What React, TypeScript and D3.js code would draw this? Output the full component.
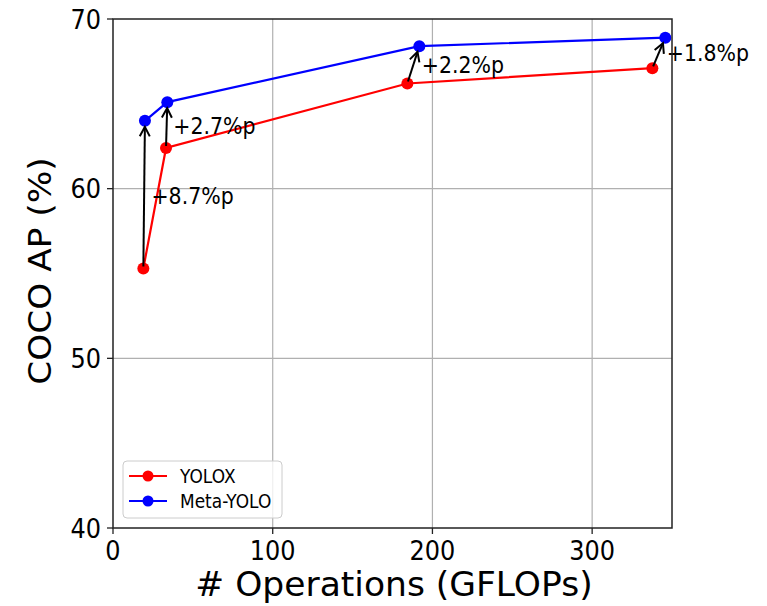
import React from "react";
import * as d3 from "d3";

const yoloxGflops = [19.0, 33.2, 184.3, 337.7];
const yoloxAP = [55.3, 62.4, 66.2, 67.1];
const metaGflops = [20.0, 34.0, 191.8, 345.8];
const metaAP = [64.0, 65.1, 68.4, 68.9];
const gainLabels = ["+8.7%p", "+2.7%p", "+2.2%p", "+1.8%p"];
const xTicks = [0, 100, 200, 300];
const yTicks = [40, 50, 60, 70];
const seriesNames = ["YOLOX", "Meta-YOLO"];

const W = 767, H = 606;
const L = 113, R = 672, T = 19, B = 528;
const FONT = "'DejaVu Sans', sans-serif";
const SY = 1.12;

export default function App() {
  const x = d3.scaleLinear().domain([0, 350]).range([L, R]);
  const y = d3.scaleLinear().domain([40, 70]).range([B, T]);
  const line = d3.line<[number, number]>().x(d => x(d[0])).y(d => y(d[1]));
  const red: [number, number][] = yoloxGflops.map((g, i) => [g, yoloxAP[i]]);
  const blue: [number, number][] = metaGflops.map((g, i) => [g, metaAP[i]]);
  // label offsets (left x, vertical centre) relative to the blue point, in pixels
  const labelOffsets: [number, number][] = [[6.5, 75], [6, 23], [2.5, 18.5], [1.5, 15]];
  const annFont = 20.5;

  const arrows = red.map((p, i) => {
    const x1 = x(p[0]), y1 = y(p[1]);
    const x2 = x(blue[i][0]), y2 = y(blue[i][1]);
    const dx = x2 - x1, dy = y2 - y1;
    const len = Math.hypot(dx, dy);
    const ux = dx / len, uy = dy / len;
    const shrink = 6;
    const tx = x2 - ux * shrink, ty = y2 - uy * shrink;
    const sx = x1 + ux * 2, sy = y1 + uy * 2;
    const hl = 9.5, hw = 5;
    const px = -uy, py = ux;
    const h1 = [tx - ux * hl + px * hw, ty - uy * hl + py * hw];
    const h2 = [tx - ux * hl - px * hw, ty - uy * hl - py * hw];
    return { sx, sy, tx, ty, h1, h2 };
  });

  const stretchedText = (key: string, tx: number, ty: number, txt: string, size: number, anchor: string) => (
    <g key={key} transform={`translate(${tx},${ty}) scale(1,${SY})`}>
      <text x={0} y={0} textAnchor={anchor as any} fontFamily={FONT} fontSize={size} fill="#000">{txt}</text>
    </g>
  );

  return (
    <svg width={W} height={H} style={{ position: "absolute", left: 0, top: 0, background: "#fff" }}>
      <rect x={0} y={0} width={W} height={H} fill="#fff" />
      {/* grid */}
      {xTicks.slice(1).map(t => (
        <line key={"gx" + t} x1={x(t)} x2={x(t)} y1={T} y2={B} stroke="#b0b0b0" strokeWidth={1.2} />
      ))}
      {yTicks.slice(1, -1).map(t => (
        <line key={"gy" + t} x1={L} x2={R} y1={y(t)} y2={y(t)} stroke="#b0b0b0" strokeWidth={1.2} />
      ))}
      {/* lines */}
      <path d={line(red) || ""} fill="none" stroke="#ff0000" strokeWidth={2.2} />
      <path d={line(blue) || ""} fill="none" stroke="#0000ff" strokeWidth={2.2} />
      {red.map((p, i) => <circle key={"r" + i} cx={x(p[0])} cy={y(p[1])} r={6} fill="#ff0000" />)}
      {blue.map((p, i) => <circle key={"b" + i} cx={x(p[0])} cy={y(p[1])} r={6} fill="#0000ff" />)}
      {/* arrows */}
      {arrows.map((a, i) => (
        <g key={"a" + i} stroke="#000" strokeWidth={2} fill="none">
          <line x1={a.sx} y1={a.sy} x2={a.tx} y2={a.ty} />
          <polyline points={`${a.h1[0]},${a.h1[1]} ${a.tx},${a.ty} ${a.h2[0]},${a.h2[1]}`} />
        </g>
      ))}
      {gainLabels.map((lab, i) =>
        stretchedText("l" + i, x(blue[i][0]) + labelOffsets[i][0],
          y(blue[i][1]) + labelOffsets[i][1] + 0.3645 * annFont * SY, lab, annFont, "start")
      )}
      {/* spines */}
      <rect x={L} y={T} width={R - L} height={B - T} fill="none" stroke="#222" strokeWidth={1.5} />
      {/* ticks */}
      {xTicks.map(t => (
        <g key={"xt" + t}>
          <line x1={x(t)} x2={x(t)} y1={B} y2={B + 6} stroke="#222" strokeWidth={1.3} />
          {stretchedText("xl" + t, x(t), 560, String(t), 24, "middle")}
        </g>
      ))}
      {yTicks.map(t => (
        <g key={"yt" + t}>
          <line x1={L - 6} x2={L} y1={y(t)} y2={y(t)} stroke="#222" strokeWidth={1.3} />
          {stretchedText("yl" + t, L - 12, y(t) + 0.3645 * 24 * SY, String(t), 24, "end")}
        </g>
      ))}
      {/* axis labels */}
      <text x={394} y={596} textAnchor="middle" fontFamily={FONT} fontSize={34.5} fill="#000"># Operations (GFLOPs)</text>
      <g transform={`translate(50.6,271) rotate(-90) scale(1.09,1)`}>
        <text x={0} y={0} textAnchor="middle" fontFamily={FONT} fontSize={31.5} fill="#000">COCO AP (%)</text>
      </g>
      {/* legend */}
      <rect x={123} y={461} width={159} height={57} rx={4} fill="#fff" fillOpacity={0.8} stroke="#ccc" strokeWidth={1} />
      {seriesNames.map((n, i) => {
        const cy = 476 + i * 25;
        const c = i === 0 ? "#ff0000" : "#0000ff";
        return (
          <g key={"lg" + i}>
            <line x1={129} x2={167} y1={cy} y2={cy} stroke={c} strokeWidth={2.2} />
            <circle cx={148} cy={cy} r={5.5} fill={c} />
            {stretchedText("lt" + i, 180, cy + 0.3645 * 17 * SY, n, 17, "start")}
          </g>
        );
      })}
    </svg>
  );
}
